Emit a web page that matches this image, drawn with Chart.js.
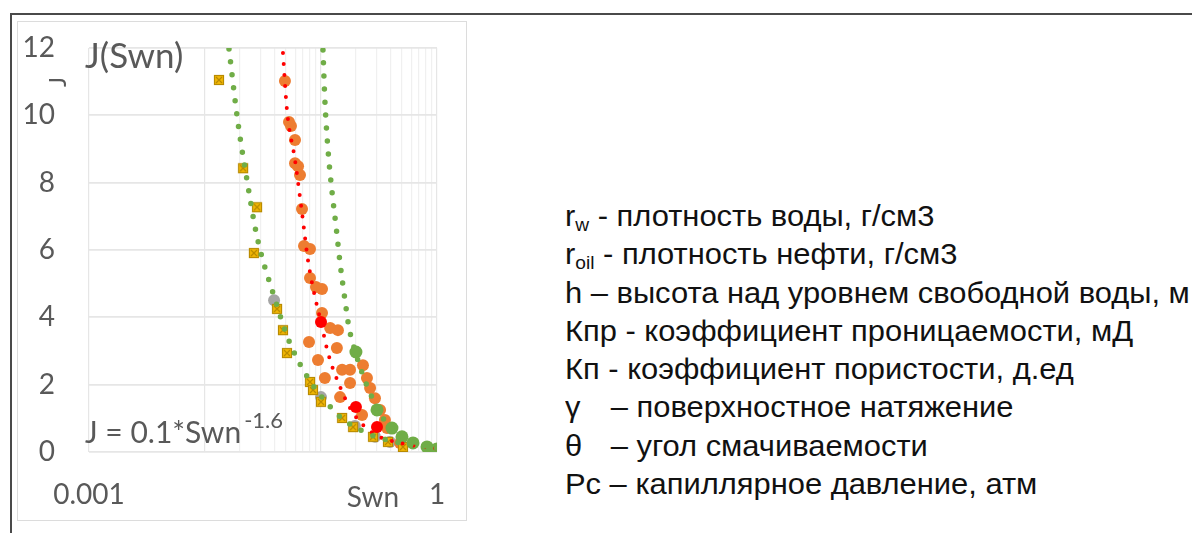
<!DOCTYPE html>
<html>
<head>
<meta charset="utf-8">
<script src="https://cdn.jsdelivr.net/npm/chart.js@4"></script>
<style>
  body { margin: 0; background: #fff; width: 1192px; height: 533px; overflow: hidden; position: relative; }
  #frame { position: absolute; left: 10px; top: 13px; width: 1200px; height: 600px; border-left: 2px solid #4a4a4a; border-top: 2px solid #4a4a4a; }
  #box { position: absolute; left: 17px; top: 21px; width: 450px; height: 500px; border: 1.5px solid #dcdcdc; box-sizing: border-box; }
  #myChart { position: absolute; left: 17px; top: 21px; }
  #notes { position: absolute; left: 565px; top: 197px; font-family: "Liberation Sans", Arial, sans-serif; font-size: 29px; line-height: 38.3px; color: #111; white-space: nowrap; transform: scaleX(1.065); transform-origin: 0 0; }
  #notes sub { font-size: 18px; vertical-align: -5px; line-height: 0; }
  .sym { display: inline-block; width: 43px; }
</style>
</head>
<body>
<div id="frame"></div>
<div id="box"></div>
<canvas id="myChart" width="450" height="500"></canvas>
<div id="notes">
  <div>r<sub>w</sub> - плотность воды, г/см3</div>
  <div>r<sub>oil</sub> - плотность нефти, г/см3</div>
  <div>h – высота над уровнем свободной воды, м</div>
  <div>Кпр - коэффициент проницаемости, мД</div>
  <div>Кп - коэффициент пористости, д.ед</div>
  <div><span class="sym">γ</span>– поверхностное натяжение</div>
  <div><span class="sym">θ</span>– угол смачиваемости</div>
  <div>Pc – капиллярное давление, атм</div>
</div>
<script>
// measured samples (Swn, J)
const yellowSwn = [0.0132, 0.0213, 0.0281, 0.0264, 0.0418, 0.047, 0.0509, 0.0804, 0.0853, 0.100, 0.152, 0.189, 0.281, 0.378, 0.509]
const yellowJ = [11.05, 8.43, 7.27, 5.91, 4.25, 3.62, 2.94, 2.08, 1.84, 1.49, 1.01, 0.74, 0.45, 0.30, 0.15]

const graySwn = [0.0394, 0.100, 0.196, 0.292, 0.393]
const grayJ = [4.51, 1.63, 0.77, 0.45, 0.30]

const orangeSwn = [0.0489, 0.053, 0.0551, 0.0597, 0.0597, 0.0634, 0.0659, 0.0686, 0.0714, 0.0804, 0.0804, 0.0905, 0.102, 0.102, 0.120, 0.140, 0.0788, 0.137, 0.0942, 0.152, 0.178, 0.230, 0.108, 0.178, 0.249, 0.265, 0.146, 0.292, 0.226, 0.323, 0.356, 0.371, 0.480, 1.0]
const orangeJ = [11.02, 9.80, 9.68, 9.27, 8.58, 8.49, 8.23, 7.22, 6.12, 6.03, 5.17, 4.90, 4.84, 4.13, 3.68, 3.62, 3.27, 3.09, 2.73, 2.44, 2.44, 2.58, 2.20, 2.05, 2.20, 1.90, 1.63, 1.60, 1.10, 1.25, 0.95, 0.71, 0.27, 0.02]

const redSwn = [0.100, 0.200, 0.304]
const redJ = [3.86, 1.34, 0.74]

const greenSwn = [0.200, 0.304, 0.409, 0.499, 0.621, 0.820, 1.0]
const greenJ = [2.97, 1.25, 0.71, 0.45, 0.27, 0.15, 0.09]

// trend lines
const trendLeftSwn = [0.0161, 0.0192, 0.0230, 0.0281, 0.0386, 0.0562, 0.127, 0.249, 0.48, 1.0]
const trendLeftJ = [11.97, 9.80, 8.08, 6.39, 4.72, 3.09, 1.25, 0.56, 0.27, 0.12]

const trendRedSwn = [0.047, 0.0509, 0.0597, 0.0686, 0.0772, 0.0888, 0.100, 0.115, 0.146, 0.189, 0.281, 0.48, 1.0]
const trendRedJ = [11.85, 10.15, 8.67, 7.10, 5.70, 4.60, 3.86, 2.94, 1.93, 1.16, 0.56, 0.27, 0.10]

const trendRightSwn = [0.104, 0.108, 0.115, 0.124, 0.135, 0.146, 0.161, 0.174, 0.192, 0.226, 0.265, 0.342, 0.48, 0.673, 1.0]
const trendRightJ = [11.94, 10.45, 8.97, 7.78, 6.68, 5.61, 4.51, 3.71, 3.12, 2.35, 1.75, 1.01, 0.50, 0.27, 0.12]

const yTicks = [0, 2, 4, 6, 8, 10, 12]
const xLabelValues = [0.001, 1]
const xTickLabels = ["0.001", "1"]

const pts = (xs, ys) => xs.map((x, i) => ({ x: x, y: ys[i] }))

// yellow square marker with a cross
const mark = document.createElement("canvas")
mark.width = 12
mark.height = 12
const m = mark.getContext("2d")
m.fillStyle = "#f2b705"
m.fillRect(1, 1, 10, 10)
m.strokeStyle = "#b88a00"
m.lineWidth = 1.2
m.strokeRect(1.5, 1.5, 9, 9)
m.beginPath()
m.moveTo(3, 3); m.lineTo(9, 9)
m.moveTo(9, 3); m.lineTo(3, 9)
m.stroke()

// x gridlines: decades plus minor lines in the two right decades
const xGrid = [0.001, 0.01, 0.02, 0.03, 0.04, 0.05, 0.06, 0.07, 0.08, 0.09, 0.1, 0.2, 0.3, 0.4, 0.5, 0.6, 0.7, 0.8, 0.9, 1]
const decades = [0.001, 0.01, 0.1, 1]

const textColor = "#595959"
const fontFam = "Lato, 'Open Sans', sans-serif"

const dotted = (data, color, width, gap) => ({
    data: data,
    showLine: true,
    borderColor: color,
    borderWidth: width,
    borderDash: [0, gap],
    borderCapStyle: "round",
    pointRadius: 0,
    tension: 0.4,
    cubicInterpolationMode: "monotone",
    order: 0,
})

const labels = {
    id: "labels",
    afterDraw(chart) {
        const c = chart.ctx
        c.save()
        c.fillStyle = textColor
        c.textBaseline = "middle"
        c.textAlign = "left"
        c.font = "35px " + fontFam
        c.fillText("J(Swn)", 68, 36)
        c.font = "28px " + fontFam
        c.textAlign = "center"
        c.fillText("Swn", 356, 477)
        c.textAlign = "left"
        c.textBaseline = "alphabetic"
        c.font = "30px " + fontFam
        c.fillText("J = 0.1*Swn", 68, 422)
        const w = c.measureText("J = 0.1*Swn").width
        c.font = "22px " + fontFam
        c.fillText("-1.6", 68 + w + 3, 407)
        c.translate(41, 61)
        c.rotate(-Math.PI / 2)
        c.textAlign = "center"
        c.textBaseline = "middle"
        c.font = "24px " + fontFam
        c.fillText("J", 0, 0)
        c.restore()
    },
}

new Chart(document.getElementById("myChart"), {
    type: "scatter",
    data: {
        datasets: [
            dotted(pts(trendLeftSwn, trendLeftJ), "#70ad47", 5.5, 13),
            dotted(pts(trendRightSwn, trendRightJ), "#70ad47", 5.5, 13),
            dotted(pts(trendRedSwn, trendRedJ), "#ff0000", 4, 11),
            { data: pts(greenSwn, greenJ), backgroundColor: "#70ad47", borderWidth: 0, pointRadius: 6.5, order: 1 },
            { data: pts(redSwn, redJ), backgroundColor: "#ff0000", borderWidth: 0, pointRadius: 6, order: 2 },
            { data: pts(yellowSwn, yellowJ), pointStyle: mark, order: 3 },
            { data: pts(orangeSwn, orangeJ), backgroundColor: "#ed7d31", borderWidth: 0, pointRadius: 6, order: 4 },
            { data: pts(graySwn, grayJ), backgroundColor: "#a5a5a5", borderWidth: 0, pointRadius: 6, order: 5 },
        ],
    },
    options: {
        responsive: false,
        animation: false,
        layout: { padding: { top: 27, right: 30, left: 0, bottom: 0 } },
        plugins: { legend: { display: false }, tooltip: { enabled: false } },
        scales: {
            x: {
                type: "logarithmic",
                min: 0.001,
                max: 1,
                border: { display: false },
                afterBuildTicks: (s) => { s.ticks = xGrid.map((v) => ({ value: v })) },
                afterFit: (s) => {
                    s.height = 69
                    s.paddingLeft = 0
                    s.paddingRight = 0
                },
                ticks: {
                    autoSkip: false,
                    maxRotation: 0,
                    padding: 26,
                    color: textColor,
                    font: { family: fontFam, size: 28 },
                    callback: (v) => {
                        const i = xLabelValues.findIndex((t) => Math.abs(t - v) < 1e-9)
                        return i >= 0 ? xTickLabels[i] : ""
                    },
                },
                grid: {
                    drawTicks: false,
                    lineWidth: 1.2,
                    color: (ctx) => {
                        const v = ctx.tick ? ctx.tick.value : 0
                        if (decades.some((d) => Math.abs(d - v) < 1e-9)) return "#e6e6e6"
                        return v > 0.01 ? "#f0f0f0" : "rgba(0,0,0,0)"
                    },
                },
            },
            y: {
                min: 0,
                max: 12,
                border: { display: false },
                afterBuildTicks: (s) => { s.ticks = yTicks.map((v) => ({ value: v })) },
                afterFit: (s) => {
                    s.width = 72
                    s.paddingTop = 0
                    s.paddingBottom = 0
                },
                ticks: {
                    padding: 34,
                    color: textColor,
                    font: { family: fontFam, size: 28 },
                },
                grid: { drawTicks: false, color: "#e6e6e6", lineWidth: 1.8 },
            },
        },
    },
    plugins: [labels],
})
</script>
</body>
</html>
